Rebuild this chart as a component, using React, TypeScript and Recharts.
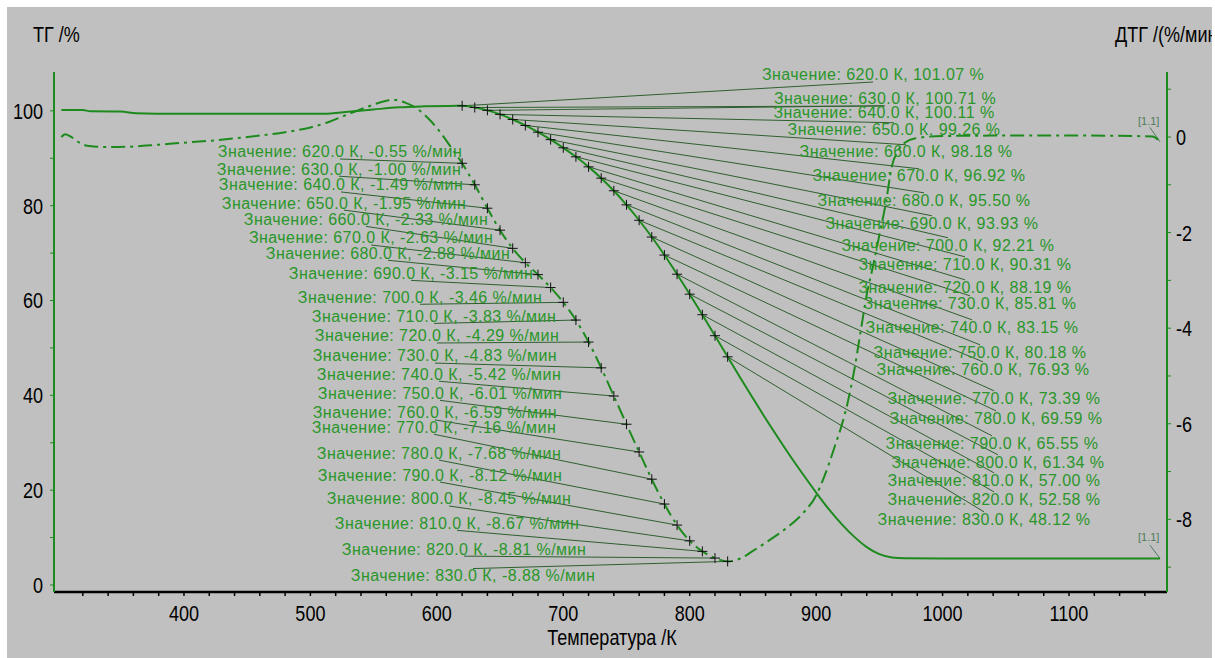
import React from "react";
import {
  ComposedChart,
  Line,
  Scatter,
  XAxis,
  YAxis,
  ReferenceLine,
} from "recharts";

// marked points, K
const markTemps = [620, 630, 640, 650, 660, 670, 680, 690, 700, 710, 720, 730, 740, 750, 760, 770, 780, 790, 800, 810, 820, 830];
const tgMarks = [101.07, 100.71, 100.11, 99.26, 98.18, 96.92, 95.5, 93.93, 92.21, 90.31, 88.19, 85.81, 83.15, 80.18, 76.93, 73.39, 69.59, 65.55, 61.34, 57.0, 52.58, 48.12];
const dtgMarks = [-0.55, -1.0, -1.49, -1.95, -2.33, -2.63, -2.88, -3.15, -3.46, -3.83, -4.29, -4.83, -5.42, -6.01, -6.59, -7.16, -7.68, -8.12, -8.45, -8.67, -8.81, -8.88];

// rest of the TG curve (outside the marked range)
const tgTemps = [303, 320, 326, 350, 362, 378, 510, 530, 550, 570, 590, 610, 840, 850, 860, 870, 880, 890, 900, 910, 920, 930, 940, 950, 960, 970, 1000, 1100, 1172];
const tgValues = [100.2, 100.2, 99.9, 99.85, 99.5, 99.4, 99.4, 99.8, 100.3, 100.75, 100.95, 101.05, 43.7, 39.4, 35.1, 31.0, 27.0, 23.2, 19.5, 16.0, 12.9, 10.2, 8.0, 6.5, 5.8, 5.65, 5.6, 5.6, 5.6];

// rest of the DTG curve
const dtgTemps = [303, 306, 312, 318, 325, 340, 360, 380, 400, 420, 440, 460, 480, 500, 515, 530, 545, 560, 565, 575, 585, 595, 605, 610, 840, 850, 860, 870, 880, 890, 900, 905, 910, 915, 920, 925, 930, 935, 940, 945, 950, 955, 960, 965, 970, 980, 1000, 1050, 1100, 1150, 1166, 1172];
const dtgValues = [0.0, 0.06, -0.02, -0.13, -0.19, -0.21, -0.2, -0.16, -0.12, -0.08, -0.03, 0.03, 0.1, 0.2, 0.32, 0.48, 0.63, 0.76, 0.78, 0.72, 0.58, 0.34, 0.02, -0.17, -8.82, -8.66, -8.49, -8.31, -8.11, -7.86, -7.5, -7.2, -6.85, -6.45, -6.05, -5.55, -4.9, -4.1, -3.3, -2.7, -2.05, -1.4, -0.6, -0.28, -0.12, -0.02, 0.02, 0.03, 0.03, 0.02, 0.01, -0.1];

// where the value labels sit (label centre, in axis units)
const tgLabelK = [945.0, 954.5, 953.7, 961.6, 971.1, 981.3, 985.3, 991.6, 1004.3, 1017.7, 1017.7, 1021.7, 1023.3, 1029.6, 1032.0, 1040.7, 1042.3, 1039.1, 1043.8, 1040.7, 1040.7, 1032.8];
const tgLabelV = [107.59, 102.53, 99.58, 95.99, 91.35, 86.29, 81.22, 76.37, 71.73, 67.72, 62.87, 59.49, 54.43, 49.16, 45.57, 39.45, 35.23, 29.96, 25.95, 22.15, 18.14, 13.92];
const dtgLabelK = [523.4, 522.6, 524.2, 526.6, 544.0, 548.0, 561.4, 579.6, 586.7, 597.8, 600.1, 598.5, 601.7, 602.5, 598.5, 597.8, 601.7, 602.5, 609.6, 616.0, 621.5, 628.6];
const dtgLabelV = [-0.31, -0.67, -1.0, -1.38, -1.72, -2.11, -2.43, -2.85, -3.35, -3.75, -4.16, -4.58, -4.96, -5.36, -5.77, -6.07, -6.61, -7.07, -7.57, -8.08, -8.62, -9.18];

const xLabelTicks = [400, 500, 600, 700, 800, 900, 1000, 1100];
const xTicks = Array.from({ length: 43 }, (_, i) => 320 + i * 20);
const tgTicks = [0, 10, 20, 30, 40, 50, 60, 70, 80, 90, 100];
const dtgTicks = [1, 0, -1, -2, -3, -4, -5, -6, -7, -8, -9];

const GREEN = "#1d8a1d";
const TEXT_GREEN = "#2a962a";
const LEADER = "#2f5f2f";
const SANS = "'Liberation Sans', Arial, sans-serif";

const byT = (a: { t: number }, b: { t: number }) => a.t - b.t;

const tgLine = [
  ...tgTemps.map((t, i) => ({ t, v: tgValues[i] })),
  ...markTemps.map((t, i) => ({ t, v: tgMarks[i] })),
].sort(byT);
const dtgLine = [
  ...dtgTemps.map((t, i) => ({ t, v: dtgValues[i] })),
  ...markTemps.map((t, i) => ({ t, v: dtgMarks[i] })),
].sort(byT);

const tgCross = markTemps.map((t, i) => ({ t, v: tgMarks[i] }));
const dtgCross = markTemps.map((t, i) => ({ t, v: dtgMarks[i] }));

const tgLabels = markTemps.map((t, i) => ({
  t: tgLabelK[i],
  v: tgLabelV[i],
  text: `Значение: ${t.toFixed(1)} К, ${tgMarks[i].toFixed(2)} %`,
}));
const dtgLabels = markTemps.map((t, i) => ({
  t: dtgLabelK[i],
  v: dtgLabelV[i],
  text: `Значение: ${t.toFixed(1)} К, ${dtgMarks[i].toFixed(2)} %/мин`,
}));

const endLabels = [{ t: 1163, v: 0.33, text: "[1.1]" }];
const endLabelsTg = [{ t: 1163, v: 10.1, text: "[1.1]" }];

// condensed black text (axis numbers and titles)
const Narrow = ({ x, y, anchor = "start", dy = "0", children }: any) => (
  <g transform={`translate(${x},${y})`}>
    <text
      transform="scale(0.82,1)"
      x={0}
      y={0}
      dy={dy}
      textAnchor={anchor}
      fill="#000"
      fontFamily={SANS}
      fontSize={22}
    >
      {children}
    </text>
  </g>
);

const Cross = (p: any) => (
  <path
    d={`M${p.cx - 5},${p.cy}H${p.cx + 5}M${p.cx},${p.cy - 5}V${p.cy + 5}`}
    stroke="#111"
    strokeWidth={1}
  />
);

const ValueText = (p: any) => (
  <text
    x={p.cx}
    y={p.cy}
    dy="0.35em"
    textAnchor="middle"
    fill={TEXT_GREEN}
    fontFamily={SANS}
    fontSize={16}
    letterSpacing={0.45}
  >
    {p.payload.text}
  </text>
);

const SmallText = (p: any) => (
  <text x={p.cx} y={p.cy} dy="0.35em" textAnchor="middle" fill="#4f7a5c" fontFamily={SANS} fontSize={11}>
    {p.payload.text}
  </text>
);

const XTick = (p: any) =>
  xLabelTicks.includes(p.payload.value) ? (
    <Narrow x={p.x} y={p.y} dy="0.71em" anchor="middle">
      {p.payload.value}
    </Narrow>
  ) : (
    <g />
  );

const LeftTick = (p: any) =>
  p.payload.value % 20 === 0 ? (
    <Narrow x={p.x} y={p.y} dy="0.36em" anchor="end">
      {p.payload.value}
    </Narrow>
  ) : (
    <g />
  );

const RightTick = (p: any) =>
  p.payload.value % 2 === 0 ? (
    <Narrow x={p.x} y={p.y} dy="0.36em" anchor="start">
      {p.payload.value}
    </Narrow>
  ) : (
    <g />
  );

const TG_GAP = 1.5;
const DTG_GAP = 0.15;

export default function App() {
  return (
    <div
      style={{
        position: "absolute",
        left: 7,
        top: 7,
        width: 1205,
        height: 651,
        background: "#c0c0c0",
        overflow: "hidden",
      }}
    >
      <ComposedChart width={1205} height={651} margin={{ top: 65, right: 0, bottom: 0, left: 0 }}>
        <XAxis
          dataKey="t"
          type="number"
          domain={[297.2, 1177.5]}
          ticks={xTicks}
          interval={0}
          height={66}
          tickSize={4}
          tickMargin={9}
          axisLine={{ stroke: "#000", strokeWidth: 2.5 }}
          tickLine={{ stroke: "#000", strokeWidth: 1.5 }}
          tick={XTick}
          label={{
            content: (p: any) => (
              <Narrow x={p.viewBox.x + p.viewBox.width / 2 + 1.5} y={p.viewBox.y + 53} anchor="middle">
                Температура /К
              </Narrow>
            ),
          }}
        />
        <YAxis
          yAxisId="tg"
          orientation="left"
          width={47}
          domain={[-1.48, 108.2]}
          ticks={tgTicks}
          interval={0}
          tickSize={4}
          tickMargin={7}
          axisLine={{ stroke: GREEN, strokeWidth: 2 }}
          tickLine={{ stroke: GREEN }}
          tick={LeftTick}
          label={{
            content: (p: any) => (
              <Narrow x={p.viewBox.x + 26} y={p.viewBox.y - 30}>
                ТГ /%
              </Narrow>
            ),
          }}
        />
        <YAxis
          yAxisId="dtg"
          orientation="right"
          width={45}
          domain={[-9.52, 1.36]}
          ticks={dtgTicks}
          interval={0}
          tickSize={4}
          tickMargin={5}
          axisLine={{ stroke: GREEN, strokeWidth: 2 }}
          tickLine={{ stroke: GREEN }}
          tick={RightTick}
          label={{
            content: (p: any) => (
              <Narrow x={p.viewBox.x - 52} y={p.viewBox.y - 30}>
                ДТГ /(%/мин)
              </Narrow>
            ),
          }}
        />

        {markTemps.map((t, i) => (
          <ReferenceLine
            key={"tgl" + t}
            yAxisId="tg"
            segment={[
              { x: t, y: tgMarks[i] },
              { x: tgLabelK[i], y: tgLabelV[i] + (tgMarks[i] > tgLabelV[i] ? TG_GAP : -TG_GAP) },
            ]}
            stroke={LEADER}
            strokeWidth={1}
          />
        ))}
        {markTemps.map((t, i) => (
          <ReferenceLine
            key={"dtgl" + t}
            yAxisId="dtg"
            segment={[
              { x: t, y: dtgMarks[i] },
              { x: dtgLabelK[i], y: dtgLabelV[i] + (dtgMarks[i] > dtgLabelV[i] ? DTG_GAP : -DTG_GAP) },
            ]}
            stroke={LEADER}
            strokeWidth={1}
          />
        ))}
        <ReferenceLine yAxisId="dtg" segment={[{ x: 1164, y: 0.2 }, { x: 1172, y: -0.1 }]} stroke="#4f7a5c" strokeWidth={1} />
        <ReferenceLine yAxisId="tg" segment={[{ x: 1164, y: 8.4 }, { x: 1172, y: 5.6 }]} stroke="#4f7a5c" strokeWidth={1} />

        <Line
          yAxisId="tg"
          data={tgLine}
          dataKey="v"
          type="monotone"
          stroke={GREEN}
          strokeWidth={2}
          dot={false}
          activeDot={false}
          isAnimationActive={false}
        />
        <Line
          yAxisId="dtg"
          data={dtgLine}
          dataKey="v"
          type="monotone"
          stroke={GREEN}
          strokeWidth={2}
          strokeDasharray="14 5 3 5"
          dot={false}
          activeDot={false}
          isAnimationActive={false}
        />

        <Scatter yAxisId="tg" data={tgCross} dataKey="v" shape={Cross} isAnimationActive={false} />
        <Scatter yAxisId="dtg" data={dtgCross} dataKey="v" shape={Cross} isAnimationActive={false} />
        <Scatter yAxisId="tg" data={tgLabels} dataKey="v" shape={ValueText} isAnimationActive={false} />
        <Scatter yAxisId="dtg" data={dtgLabels} dataKey="v" shape={ValueText} isAnimationActive={false} />
        <Scatter yAxisId="dtg" data={endLabels} dataKey="v" shape={SmallText} isAnimationActive={false} />
        <Scatter yAxisId="tg" data={endLabelsTg} dataKey="v" shape={SmallText} isAnimationActive={false} />
      </ComposedChart>
    </div>
  );
}
